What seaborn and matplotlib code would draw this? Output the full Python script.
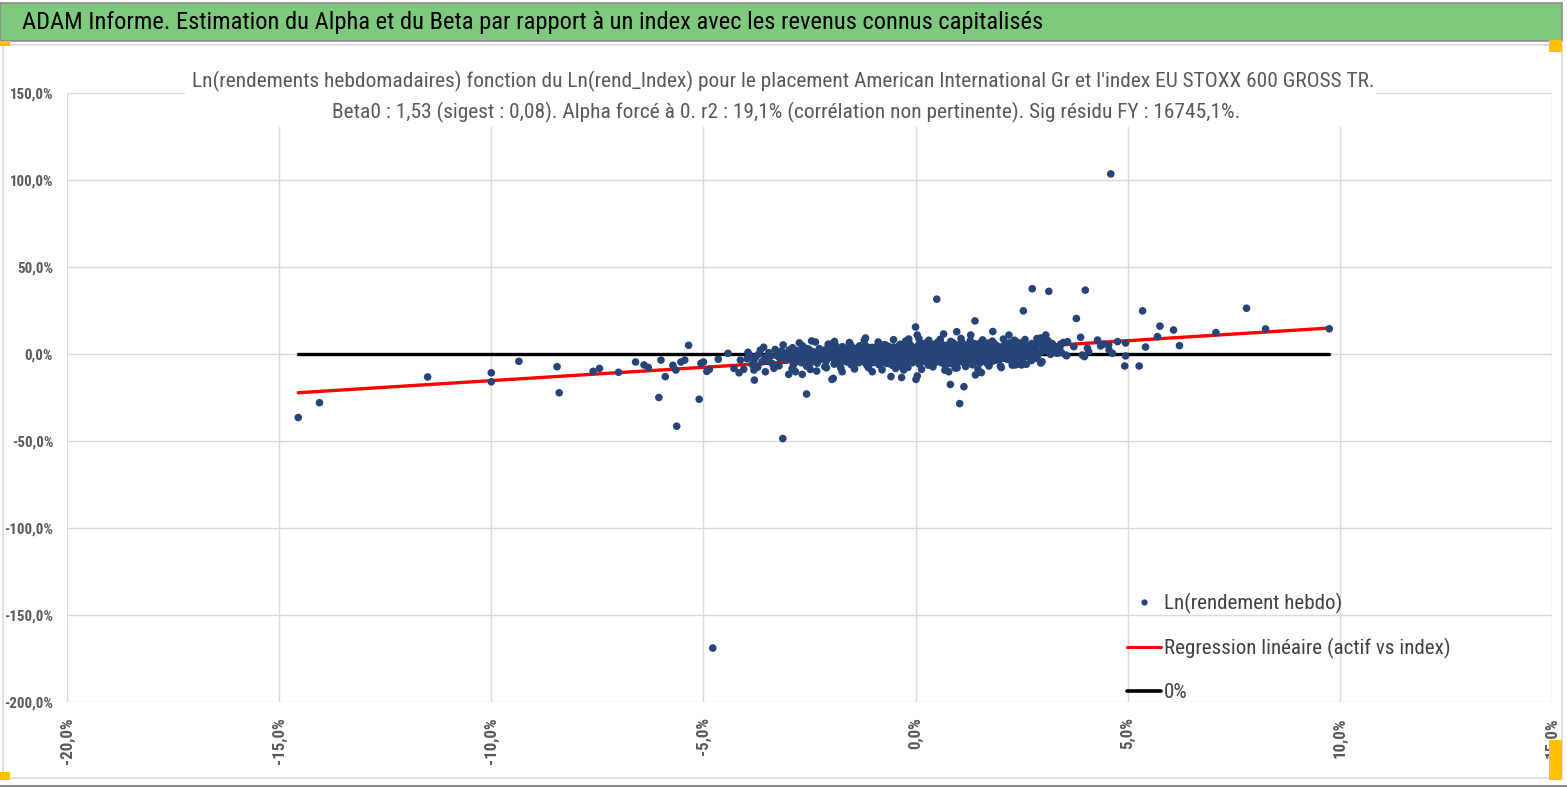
import matplotlib
matplotlib.use("Agg")
import matplotlib.pyplot as plt
import matplotlib.patches as mpatches
from matplotlib import font_manager
from matplotlib.lines import Line2D
from matplotlib.ticker import FuncFormatter
import pandas as pd
import seaborn as sns

# weekly log-returns in %
# isolated points (tails and fringe of the cloud)
idx_tail = [-14.55, -14.05, -11.5, -10.0, -10.0, -9.35, -8.45, -8.4, -7.6, -7.45,
            -7.0, -6.6, -6.4, -6.3, -6.05, -6.0, -5.9, -5.72, -5.65, -5.63,
            -5.53, -5.44, -5.35, -5.1, -5.06, -5.0, -4.92, -4.86, -4.78, -4.65,
            -4.42, -4.28, -4.16, -4.05, -4.13, -3.8, -3.81, -3.54, -3.34, -3.13,
            -2.99, -2.83, -2.67, -2.57, -2.45, -2.33, -2.1, -2.02, -1.97, -1.94,
            -1.73, -1.61, -1.18, -1.02, -0.58, -0.33, -0.28, -0.33, -0.16, 0.0,
            0.04, 0.01, 0.04, 0.5, 0.66, 0.78, 0.82, 0.97, 0.98, 1.04,
            1.14, 1.3, 1.4, 1.41, 1.55, 1.82, 2.2, 2.0, 2.35, 2.4,
            2.5, 2.52, 2.54, 2.67, 2.73, 2.75, 2.83, 2.95, 2.95, 2.98,
            3.07, 3.14, 3.14, 3.26, 3.34, 3.42, 3.54, 3.56, 3.58, 3.73,
            3.79, 3.89, 3.93, 3.98, 4.0, 4.05, 4.08, 4.29, 4.36, 4.44,
            4.55, 4.56, 4.6, 4.64, 4.76, 4.93, 4.95, 4.95, 5.27, 5.35,
            5.42, 5.7, 5.76, 6.08, 6.22, 7.08, 7.8, 8.25, 9.75]
asset_tail = [-36.5, -28.0, -13.2, -10.8, -16.0, -4.2, -7.3, -22.3, -10.0, -8.3,
              -10.5, -4.6, -6.3, -7.7, -25.0, -3.5, -13.0, -6.5, -9.2, -41.5,
              -4.6, -3.5, 5.0, -26.0, -5.4, -4.6, -10.0, -8.8, -169.0, -3.0,
              0.4, -8.3, -10.8, -8.8, -3.5, -15.0, -9.2, -10.2, -8.2, -48.6,
              -11.7, -10.2, -11.7, -23.0, 7.5, -9.8, -7.9, 5.6, -14.6, -14.0,
              -10.2, 3.3, 9.2, -10.2, -13.0, -13.5, -9.2, -7.3, 8.6, 15.5,
              10.9, -14.6, -12.6, 31.5, 11.5, -10.2, -17.5, 12.8, -8.0, -28.5,
              -18.8, 10.9, 19.0, -12.0, -10.7, 12.9, 10.9, -6.9, -6.3, -5.8,
              -6.3, -5.2, 24.8, -1.5, -3.8, 37.5, -2.5, 9.2, -5.2, -4.4,
              10.9, 36.0, 2.3, 4.6, 0.4, 5.7, -0.6, -1.0, 7.1, 4.2,
              20.4, 9.6, -0.6, -1.5, 36.7, 3.3, 1.3, 8.0, 4.6, 5.7,
              5.2, 2.3, 103.5, 0.4, 7.1, -6.9, 6.3, -1.1, -6.9, 24.8,
              4.0, 10.0, 16.0, 13.8, 4.8, 12.3, 26.3, 14.4, 14.5]

# dense cloud between -4% and +3.5% of index return (first pass)
idx_core = [
    -3.97, -3.92, -3.85, -3.77, -3.70, -3.62, -3.55, -3.46, -3.38, -3.27, -3.16, -3.06,
    -2.98, -2.93, -2.88, -2.83, -2.78, -2.72, -2.67, -2.62, -2.57, -2.52,
    -2.47, -2.42, -2.37, -2.32, -2.27, -2.21, -2.16, -2.11, -2.06, -2.02,
    -1.98, -1.95, -1.92, -1.88, -1.85, -1.82, -1.78, -1.75, -1.72, -1.68,
    -1.65, -1.62, -1.58, -1.55, -1.52, -1.48, -1.45, -1.42, -1.38, -1.35,
    -1.32, -1.28, -1.25, -1.22, -1.18, -1.15, -1.12, -1.08, -1.05, -1.03, -1.60, -1.40,
    -0.99, -0.96, -0.94, -0.91, -0.89, -0.86, -0.84, -0.81, -0.79, -0.76,
    -0.74, -0.71, -0.69, -0.66, -0.64, -0.61, -0.59, -0.56, -0.54, -0.51,
    -0.49, -0.46, -0.44, -0.41, -0.39, -0.36, -0.34, -0.31, -0.29, -0.26,
    -0.24, -0.21, -0.19, -0.16, -0.14, -0.11, -0.09, -0.06, -0.04, -0.02,
    0.01, 0.03, 0.05, 0.07, 0.09, 0.11, 0.13, 0.15, 0.17, 0.19, 0.22, 0.24,
    0.26, 0.28, 0.30, 0.32, 0.34, 0.36, 0.38, 0.40, 0.43, 0.45, 0.47, 0.49,
    0.51, 0.53, 0.55, 0.57, 0.59, 0.61, 0.64, 0.66, 0.68, 0.70, 0.72, 0.74,
    0.76, 0.78, 0.80, 0.82, 0.85, 0.87, 0.89, 0.91, 0.93, 0.95, 0.97, 0.99,
    1.01, 1.03, 1.05, 1.07, 1.09, 1.11, 1.13, 1.15, 1.17, 1.19, 1.22, 1.24,
    1.26, 1.28, 1.30, 1.32, 1.34, 1.36, 1.38, 1.40, 1.43, 1.45, 1.47, 1.49,
    1.51, 1.53, 1.55, 1.57, 1.59, 1.61, 1.64, 1.66, 1.68, 1.70, 1.72, 1.74,
    1.76, 1.78, 1.80, 1.82, 1.85, 1.87, 1.89, 1.91, 1.93, 1.95, 1.97, 1.99,
    2.02, 2.05, 2.08, 2.11, 2.14, 2.17, 2.20, 2.23, 2.26, 2.29, 2.32, 2.35, 2.38,
    2.41, 2.44, 2.47, 2.50, 2.53, 2.56, 2.59, 2.62, 2.65, 2.68, 2.71, 2.74, 2.77,
    2.82, 2.88, 2.93, 2.99, 3.05, 3.11, 3.18, 3.25, 3.32, 3.40, 3.48]
asset_core = [
    -2.7, -0.5, -6.0, -1.8, -0.2, -4.5, -2.0, 0.8, -5.5, -1.0, 1.7, -3.4,
    2.3, -2.8, -6.5, 0.5, -4.2, 1.2, 4.8, -1.5, -7.0, 2.8,
    -0.8, -3.6, 0.9, -5.3, 3.1, -1.9, -0.3, -4.4, 5.6, 1.6,
    -2.1, 3.3, -5.8, 0.4, -3.5, 1.9, -6.8, -0.9, 4.2, -2.6,
    0.8, -4.6, 2.5, -1.2, -6.1, 3.6, -0.3, -3.0, 1.4, -5.0,
    4.7, -1.7, 0.2, -3.9, 2.9, -6.4, -0.6, 1.1, -2.4, 3.8, -0.1, -1.0,
    1.2, -4.8, 3.9, -1.5, 0.3, -6.2, 2.4, -2.9, 5.1, -0.7,
    -3.8, 1.8, -5.4, 0.9, 4.4, -2.2, -0.2, 2.9, -6.6, -1.1,
    3.5, -3.3, 0.6, -4.9, 1.7, 5.6, -2.6, -0.4, 2.1, -5.7,
    0.1, 3.8, -1.9, -3.6, 1.4, 4.9, -0.8, -4.3, 2.6, -1.4,
    2.2, -3.1, 0.4, 5.3, -5.9, 1.5, -1.2, 3.7, -4.4, 0.9, 6.1, -2.3,
    -0.5, 4.2, -6.4, 2.0, -1.8, 0.2, 5.7, -3.7, 1.1, -5.1, 3.0, -0.9,
    6.6, -2.6, 0.7, 4.5, -4.8, 1.9, -1.4, 3.3, -6.0, 0.0, 5.0, -2.9,
    2.6, -0.3, -4.0, 4.0, 1.3, -5.5, 6.3, -1.6, 0.5, 3.5, -3.2, 2.3,
    -1.0, 4.6, -4.2, 1.6, 6.8, -2.0, 0.3, 3.2, -5.6, 2.7, -0.6, 5.4,
    -3.4, 1.0, 4.1, -1.7, -6.2, 2.4, 0.6, 5.9, -2.8, 3.6, -0.2, -4.6,
    1.8, 6.4, -1.3, 3.0, -3.9, 0.8, 4.8, -0.4, -5.2, 2.2, 5.5, -2.2,
    1.2, 3.9, -1.6, -4.1, 6.0, 0.4, 2.8, -2.7, 4.4, -0.8, 1.7, 3.1,
    0.9, 4.3, -2.4, 2.0, 6.2, -0.5, 3.4, -3.6, 1.4, 5.0, -1.1, 2.6, 7.0,
    0.2, 4.0, -2.0, 1.9, 5.6, -0.9, 3.2, 0.6, 4.6, -1.8, 2.4, 6.0, 1.0,
    3.0, -0.8, 5.2, 1.6, 7.4, 2.8, -0.2, 4.4, 1.5, 3.8, 6.6]

# dense cloud, second pass (points in between)
idx_core2 = [
    -3.95, -3.81, -3.66, -3.50, -3.42, -3.31, -3.20, -3.10,
    -2.96, -2.90, -2.85, -2.80, -2.75, -2.69, -2.64, -2.59, -2.54, -2.49, -2.44, -2.39, -2.29, -2.24, -2.13, -2.04,
    -1.99, -1.96, -1.93, -1.90, -1.87, -1.83, -1.80, -1.77, -1.74, -1.70,
    -1.67, -1.63, -1.57, -1.53, -1.50, -1.47, -1.43, -1.37, -1.33, -1.30,
    -1.27, -1.23, -1.20, -1.16, -1.13, -1.10, -1.07, -1.04, -1.01, -1.46,
    -0.98, -0.95, -0.93, -0.90, -0.87, -0.85, -0.82, -0.80, -0.77, -0.75,
    -0.72, -0.70, -0.67, -0.65, -0.62, -0.60, -0.57, -0.55, -0.52, -0.50,
    -0.47, -0.45, -0.42, -0.40, -0.37, -0.35, -0.32, -0.30, -0.27, -0.25,
    -0.22, -0.20, -0.17, -0.15, -0.12, -0.10, -0.07, -0.05, -0.03, -0.01,
    0.02, 0.04, 0.06, 0.08, 0.10, 0.12, 0.14, 0.16, 0.18, 0.20,
    0.23, 0.25, 0.27, 0.29, 0.31, 0.33, 0.35, 0.37, 0.39, 0.42,
    0.44, 0.46, 0.48, 0.50, 0.52, 0.54, 0.56, 0.58, 0.60, 0.63,
    0.65, 0.67, 0.69, 0.71, 0.73, 0.75, 0.77, 0.79, 0.81, 0.84,
    0.86, 0.88, 0.90, 0.92, 0.94, 0.96, 0.98, 0.995,
    1.02, 1.04, 1.06, 1.08, 1.10, 1.12, 1.14, 1.16, 1.18, 1.20,
    1.23, 1.25, 1.27, 1.29, 1.31, 1.33, 1.35, 1.37, 1.39, 1.42,
    1.44, 1.46, 1.48, 1.50, 1.52, 1.54, 1.56, 1.58, 1.60, 1.63,
    1.65, 1.67, 1.69, 1.71, 1.73, 1.75, 1.77, 1.79, 1.81, 1.84,
    1.86, 1.88, 1.90, 1.92, 1.94, 1.96, 1.98, 1.995,
    2.03, 2.06, 2.10, 2.13, 2.16, 2.19, 2.22, 2.25, 2.28, 2.31,
    2.34, 2.37, 2.40, 2.43, 2.46, 2.49, 2.52, 2.55, 2.58, 2.61,
    2.64, 2.67, 2.70, 2.73, 2.79, 2.85,
    2.91, 2.97, 3.02, 3.09, 3.15, 3.22, 3.30, 3.44]
asset_core2 = [
    1.0, -3.5, 2.2, -4.0, -1.4, 2.6, -2.4, 0.3,
    -0.6, 3.6, -3.8, 2.0, -1.2, -5.0, 0.1, 3.3, -2.5, -5.6, 1.5, -1.7, 0.6, -3.1, 2.4, -1.0,
    0.9, -1.4, 2.1, -4.3, 4.5, -2.0, 0.0, 2.9, -4.1, 1.2,
    -3.2, 3.1, -0.4, 5.2, -2.8, 0.6, -5.3, 3.4, -1.5, 0.8,
    -4.4, 2.2, -2.2, 4.4, -0.9, -3.3, 2.7, -5.1, 0.2, -4.0,
    -2.0, 2.6, -0.6, 4.6, -3.4, 1.0, -5.2, 3.2, -1.8, 0.5,
    5.4, -4.2, 2.0, -1.0, -5.6, 3.6, -2.6, 1.3, 4.0, -3.9,
    -0.2, 2.3, -6.0, 4.5, -1.4, -3.2, 1.6, 5.1, -2.1, 0.7,
    -4.6, 2.8, -0.5, 6.0, -2.8, 1.9, -5.0, 3.4, -0.3, 0.8,
    -1.1, 3.9, -4.9, 1.0, 4.7, -2.0, 6.0, -0.1, 2.8, -3.4,
    -0.9, 3.1, 5.0, -4.8, 1.2, -2.6, 4.5, -0.6, 2.4, -5.5,
    0.3, 3.6, -2.0, 5.5, -0.7, 2.0, -3.9, 1.5, 6.2, -1.1,
    -4.3, 2.9, 0.6, -2.4, 4.1, -0.2, -5.7, 1.8, 3.0, -1.5,
    5.6, -3.0, 0.9, 3.8, -5.0, 2.0, -0.5, 5.2,
    2.0, -2.5, 5.0, -0.2, 3.4, -4.8, 1.4, -1.9, 4.3, -0.5,
    2.6, -3.0, 6.1, 0.0, -2.3, 3.8, 1.2, -4.4, 5.2, -0.9,
    2.0, -2.6, 4.6, 0.5, -5.0, 3.1, -0.3, 5.8, 1.0, -2.1,
    3.5, -4.3, 0.2, 6.3, -1.0, 2.5, -3.2, 4.7, 0.9, -1.2,
    3.3, -3.6, 5.0, 1.0, -1.8, 4.0, -3.3, 0.6,
    3.0, -1.5, 5.3, 0.2, -3.0, 2.9, 6.4, -0.2, 4.4, 1.3,
    -2.5, 3.8, 5.8, -1.2, 2.2, 6.4, -2.8, 3.0, 0.6, 5.1,
    -1.3, 2.6, 4.2, -0.4, 3.8, 5.9,
    0.5, 6.8, 3.2, 5.4, 0.9, 6.0, 3.6, 0.8]

# ragged upper and lower edge of the cloud
idx_edge = [-3.58, -3.12, -2.74, -2.36, -1.91, -1.56, -1.21, -0.88, -0.52, -0.23,
            0.08, 0.31, 0.58, 0.83, 1.07, 1.29, 1.58, 1.81, 2.07, 2.33, 2.58, 2.86, 3.12,
            -3.72, -3.22, -2.91, -2.48, -2.14, -1.76, -1.44, -1.11, -0.79, -0.47,
            -0.18, 0.14, 0.41, 0.69, 0.93, 1.18, 1.47, 1.73, 2.02, 2.28, 2.61]
asset_edge = [3.9, 5.2, 6.4, 6.9, 7.2, 6.6, 7.8, 6.9, 8.2, 7.5,
              8.8, 7.9, 8.4, 7.2, 8.9, 7.6, 8.1, 7.4, 8.6, 7.9, 8.3, 8.9, 7.7,
              -7.6, -6.8, -8.4, -8.9, -7.3, -8.1, -8.6, -7.9, -9.1, -8.3,
              -7.7, -8.8, -7.4, -9.3, -8.0, -7.2, -8.5, -6.9, -7.8, -6.4, -5.9]

beta0 = 1.53  # alpha forced to 0

x_ticks = [-20, -15, -10, -5, 0, 5, 10, 15]
y_ticks = [-200, -150, -100, -50, 0, 50, 100, 150]

header = "ADAM Informe. Estimation du Alpha et du Beta par rapport à un index avec les revenus connus capitalisés"
title_1 = ("Ln(rendements hebdomadaires) fonction du Ln(rend_Index) pour le placement American International Gr "
           "et l'index EU STOXX 600 GROSS TR.")
title_2 = ("Beta0 : 1,53 (sigest : 0,08). Alpha forcé à 0. r2 : 19,1% (corrélation non pertinente). "
           "Sig résidu FY : 16745,1%.")
legend_labels = ["Ln(rendement hebdo)", "Regression linéaire (actif vs index)", "0%"]


def pick_font(cands):
    for c in cands:
        try:
            font_manager.findfont(c, fallback_to_default=False)
            return c
        except ValueError:
            continue
    return "DejaVu Sans"


sns.set_theme(style="white")
main_font = pick_font(["Liberation Sans Narrow", "DejaVu Sans Condensed", "Roboto Condensed", "Liberation Sans"])
plt.rcParams["font.family"] = [main_font, "DejaVu Sans"]

pts = pd.DataFrame({"index": idx_tail + idx_core + idx_core2 + idx_edge,
                    "asset": asset_tail + asset_core + asset_core2 + asset_edge})
x_line = [pts["index"].min(), pts["index"].max()]
lines = pd.DataFrame({"index": x_line,
                      "reg": [beta0 * v for v in x_line],
                      "zero": [0.0, 0.0]})

W, H = 1567, 787
fig = plt.figure(figsize=(W / 100, H / 100), dpi=100)
renderer = fig.canvas.get_renderer()


def fit_size(s, target_px, base=12, **kw):
    t = fig.text(0, 0, s, fontsize=base, **kw)
    w = t.get_window_extent(renderer).width
    t.remove()
    return base * target_px / w


ax = fig.add_axes([67 / W, 1 - 702 / H, (1552 - 67) / W, (702 - 93) / H])

sns.lineplot(data=lines, x="index", y="reg", ax=ax, color="#FF0000", linewidth=2.4, zorder=2)
sns.lineplot(data=lines, x="index", y="zero", ax=ax, color="#000000", linewidth=2.4, zorder=2)
sns.scatterplot(data=pts, x="index", y="asset", ax=ax, color="#264478", s=30,
                edgecolor="none", linewidth=0, zorder=3)

ax.set_xlim(-20, 15)
ax.set_ylim(-200, 150)
ax.set_xticks(x_ticks)
ax.set_yticks(y_ticks)
pct = FuncFormatter(lambda v, p: f"{v:.1f}%".replace(".", ","))
ax.xaxis.set_major_formatter(pct)
ax.yaxis.set_major_formatter(pct)
ax.grid(True, color="#D9D9D9", linewidth=1.0)
ax.set_axisbelow(True)
for s in ax.spines.values():
    s.set_visible(False)
ax.set_xlabel("")
ax.set_ylabel("")

ytick_fs = fit_size("150,0%", 43, fontweight="bold")
xtick_fs = fit_size("-20,0%", 47, fontweight="bold")
ax.tick_params(axis="both", length=0, colors="#595959")
ax.tick_params(axis="x", pad=11, labelrotation=90, labelsize=xtick_fs)
ax.tick_params(axis="y", pad=10, labelsize=ytick_fs)
for lab in ax.get_xticklabels() + ax.get_yticklabels():
    lab.set_fontweight("bold")

leg_fs = fit_size(legend_labels[1], 286)
leg_px = leg_fs * 100 / 72
handles = [Line2D([], [], linestyle="none", marker="o", markersize=3.5, color="#264478"),
           Line2D([], [], color="#FF0000", linewidth=2.2),
           Line2D([], [], color="#000000", linewidth=2.6)]
ax.legend(handles, legend_labels, loc="upper left", bbox_to_anchor=(1127 / W, 1 - 593 / H),
          bbox_transform=fig.transFigure, frameon=False, fontsize=leg_fs, labelcolor="#404040",
          handlelength=34 / leg_px, handletextpad=3 / leg_px,
          labelspacing=(48.5 - 1.17 * leg_px) / leg_px, borderpad=0, borderaxespad=0)

# Excel-like frame, header band and selection handles
fig.patches.append(mpatches.Rectangle((0, 1 - 41 / H), 1562 / W, 38 / H, transform=fig.transFigure,
                                      facecolor="#7FC97F", edgecolor="#8C8C8C", linewidth=1.2, zorder=1))
fig.patches.append(mpatches.Rectangle((3 / W, 1 - 778 / H), 1559 / W, 733 / H, transform=fig.transFigure,
                                      facecolor="none", edgecolor="#D9D9D9", linewidth=1.2, zorder=1))
fig.patches.append(mpatches.Rectangle((185 / W, 1 - 127 / H), (1376 - 185) / W, 64 / H, transform=fig.transFigure,
                                      facecolor="white", edgecolor="none", zorder=1))
for (x0, y0, w, h) in [(0, 41, 10, 5), (1549, 40, 13, 12), (1549, 740, 13, 40), (0, 772, 10, 8)]:
    fig.patches.append(mpatches.Rectangle((x0 / W, 1 - (y0 + h) / H), w / W, h / H, transform=fig.transFigure,
                                          facecolor="#FFC000", edgecolor="none", zorder=1))
fig.add_artist(Line2D([0, 1], [1 - 786 / H, 1 - 786 / H], transform=fig.transFigure,
                      color="#8C8C8C", linewidth=1.5))

head_fs = fit_size(header, 1018)
fig.text(22 / W, 1 - 22 / H, header, ha="left", va="center", fontsize=head_fs, color="#000000")
title_fs = fit_size(title_1, 1179)
fig.text(783 / W, 1 - 81 / H, title_1, ha="center", va="center", fontsize=title_fs, color="#595959")
fig.text(786 / W, 1 - 112 / H, title_2, ha="center", va="center", fontsize=title_fs, color="#595959")

fig.savefig("out.png", dpi=100)
